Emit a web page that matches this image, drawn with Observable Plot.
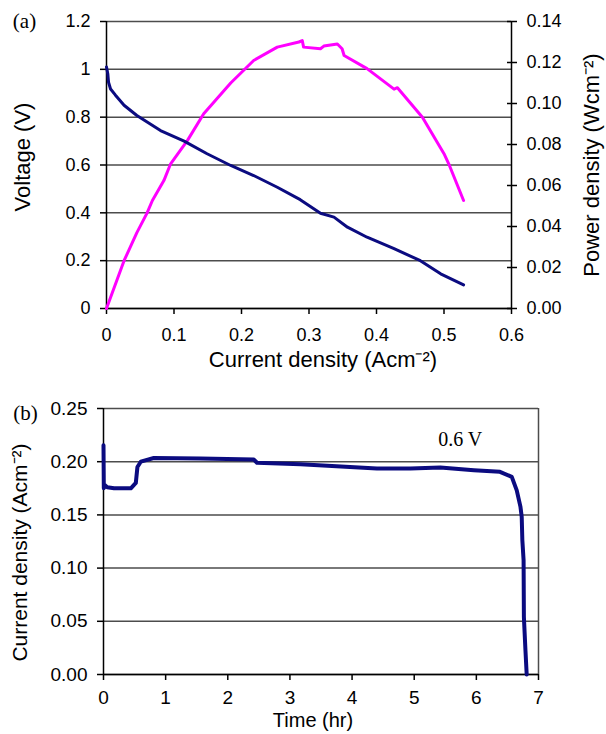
<!DOCTYPE html>
<html>
<head>
<meta charset="utf-8">
<script src="https://cdn.jsdelivr.net/npm/d3@7"></script>
<script src="https://cdn.jsdelivr.net/npm/@observablehq/plot@0.6"></script>
<style>
  html, body { margin: 0; padding: 0; background: #fff; }
  svg { display: block; }
</style>
</head>
<body>
<div id="chart"></div>
<script>
// ---------- Panel (a): polarization curve ----------
const currentV = [0, 0.002, 0.003, 0.006, 0.013, 0.026, 0.045, 0.08, 0.115, 0.149, 0.184, 0.218, 0.253, 0.287, 0.317, 0.337, 0.357, 0.386, 0.426, 0.465, 0.495, 0.529];
const voltage  = [1.01, 0.98, 0.946, 0.918, 0.893, 0.85, 0.807, 0.744, 0.70, 0.647, 0.598, 0.556, 0.507, 0.455, 0.398, 0.382, 0.34, 0.298, 0.25, 0.20, 0.145, 0.099];

const currentP = [0, 0.026, 0.045, 0.060, 0.068, 0.085, 0.095, 0.12, 0.144, 0.184, 0.218, 0.253, 0.285, 0.29, 0.292, 0.317, 0.322, 0.342, 0.349, 0.352, 0.386, 0.426, 0.431, 0.468, 0.50, 0.507, 0.529];
const power    = [0, 0.0233, 0.037, 0.0465, 0.0527, 0.0624, 0.0706, 0.082, 0.095, 0.110, 0.121, 0.1275, 0.130, 0.1307, 0.1275, 0.1267, 0.128, 0.129, 0.1267, 0.1234, 0.117, 0.107, 0.1077, 0.0933, 0.0755, 0.0706, 0.0527];

const currentTicksA = [0, 0.1, 0.2, 0.3, 0.4, 0.5, 0.6];
const voltageTicks  = [0, 0.2, 0.4, 0.6, 0.8, 1, 1.2];
const powerTicks    = [0, 0.02, 0.04, 0.06, 0.08, 0.10, 0.12, 0.14];

// ---------- Panel (b): durability at 0.6 V ----------
const timeHr   = [0, 0.005, 0.02, 0.06, 0.17, 0.44, 0.52, 0.546, 0.6, 0.81, 1.56, 2.42, 2.47, 3.17, 4.40, 4.94, 5.42, 5.96, 6.38, 6.57, 6.65, 6.71, 6.73, 6.74, 6.76, 6.765, 6.79, 6.81];
const currentB = [0.2155, 0.175, 0.178, 0.176, 0.175, 0.175, 0.18, 0.195, 0.20, 0.2035, 0.203, 0.202, 0.199, 0.1977, 0.1936, 0.1936, 0.1945, 0.192, 0.1905, 0.1857, 0.173, 0.1575, 0.148, 0.1263, 0.1074, 0.054, 0.0228, 0];

const timeTicks     = [0, 1, 2, 3, 4, 5, 6, 7];
const currentTicksB = [0, 0.05, 0.10, 0.15, 0.20, 0.25];

const noteTime = [5.74];
const noteCurrent = [0.221];
const noteText = ["0.6 V"];

// ---------- styling ----------
const navy = "#0b0b80";
const magenta = "#ff00ff";
const gridColor = "#4d4d4d";
const sans = "Liberation Sans, Arial, sans-serif";
const serif = "Liberation Serif, Times New Roman, serif";

const k = 1.2 / 0.14; // power -> voltage axis mapping
const rowsV = currentV.map((x, i) => ({x, y: voltage[i]}));
const rowsP = currentP.map((x, i) => ({x, y: power[i] * k}));
const rowsB = timeHr.map((x, i) => ({x, y: currentB[i]}));
const notes = noteTime.map((x, i) => ({x, y: noteCurrent[i], t: noteText[i]}));

const title = (txt, o) => Plot.text([txt], {text: d => d, textAnchor: "middle", lineAnchor: "middle", fill: "black", ...o});

const chartA = Plot.plot({
  width: 606, height: 380,
  marginLeft: 106, marginRight: 95, marginTop: 21, marginBottom: 72,
  style: {fontFamily: sans, background: "white", color: "black"},
  x: {domain: [0, 0.6], label: null},
  y: {domain: [0, 1.2], label: null},
  marks: [
    Plot.gridY(voltageTicks, {stroke: gridColor, strokeOpacity: 1, strokeWidth: 1.5}),
    Plot.ruleX([0], {strokeWidth: 1.5}),
    Plot.ruleX([0.6], {strokeWidth: 1.5}),
    Plot.ruleY([0], {strokeWidth: 1.5}),
    Plot.axisX(currentTicksA, {tickSize: 6, tickPadding: 14, fontSize: 18, tickFormat: d => String(d), strokeWidth: 1.5, label: null}),
    Plot.axisY(voltageTicks, {anchor: "left", tickSize: 6, tickPadding: 10, fontSize: 18, tickFormat: d => String(d), strokeWidth: 1.5, label: null}),
    Plot.axisY(powerTicks.map(p => p * k), {anchor: "right", tickSize: 10, dx: -5, tickPadding: 10, fontSize: 18, tickFormat: d => (d / k).toFixed(2), strokeWidth: 1.5, label: null}),
    Plot.line(rowsP, {x: "x", y: "y", stroke: magenta, strokeWidth: 3}),
    Plot.line(rowsV, {x: "x", y: "y", stroke: navy, strokeWidth: 3}),
    title("Voltage (V)", {frameAnchor: "left", rotate: -90, dx: -84, dy: -8, fontSize: 22, fontFamily: sans}),
    title("Power density (Wcm⁻²)", {frameAnchor: "right", rotate: -90, dx: 80, dy: 0, fontSize: 22, fontFamily: sans}),
    title("Current density (Acm⁻²)", {frameAnchor: "bottom", dx: 14, dy: 51, fontSize: 22, fontFamily: sans}),
    title("(a)", {frameAnchor: "top-left", dx: -82, dy: 0, fontSize: 21, fontFamily: serif})
  ]
});

const chartB = Plot.plot({
  width: 606, height: 354,
  marginLeft: 103, marginRight: 68, marginTop: 28, marginBottom: 60,
  style: {fontFamily: sans, background: "white", color: "black"},
  x: {domain: [0, 7], label: null},
  y: {domain: [0, 0.25], label: null},
  marks: [
    Plot.gridY(currentTicksB, {stroke: gridColor, strokeOpacity: 1, strokeWidth: 1.5}),
    Plot.ruleX([0], {strokeWidth: 1.5}),
    Plot.ruleX([7], {stroke: gridColor, strokeWidth: 1.5}),
    Plot.ruleY([0], {strokeWidth: 1.5}),
    Plot.axisX(timeTicks, {tickSize: 6, tickPadding: 10, fontSize: 19, tickFormat: d => String(d), strokeWidth: 1.5, label: null}),
    Plot.axisY(currentTicksB, {anchor: "left", tickSize: 6, tickPadding: 10, fontSize: 19, tickFormat: d => d.toFixed(2), strokeWidth: 1.5, label: null}),
    Plot.line(rowsB, {x: "x", y: "y", stroke: navy, strokeWidth: 4}),
    Plot.text(notes, {x: "x", y: "y", text: "t", fontSize: 20, fontFamily: serif, fill: "black"}),
    title("Current density (Acm⁻²)", {frameAnchor: "left", rotate: -90, dx: -83, dy: 11, fontSize: 21, fontFamily: sans}),
    title("Time (hr)", {frameAnchor: "bottom", dx: -8, dy: 46, fontSize: 20, fontFamily: sans}),
    title("(b)", {frameAnchor: "top-left", dx: -78, dy: 5, fontSize: 21, fontFamily: serif})
  ]
});

const root = document.getElementById("chart");
root.appendChild(chartA);
root.appendChild(chartB);
</script>
</body>
</html>
